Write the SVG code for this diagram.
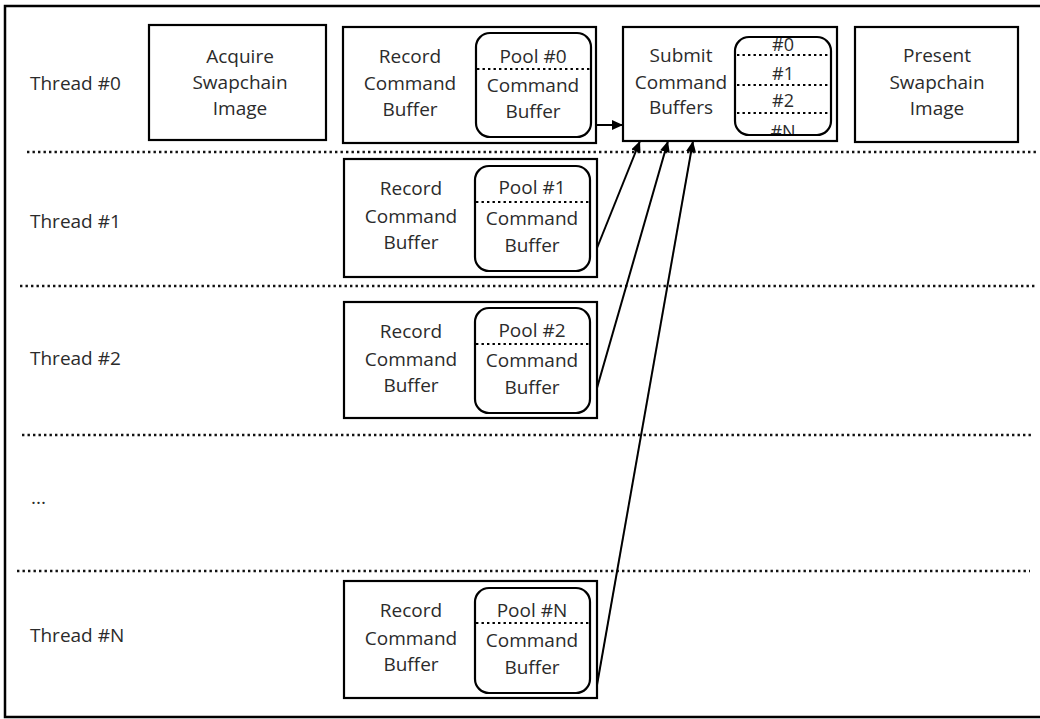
<svg xmlns="http://www.w3.org/2000/svg" width="1040" height="719" viewBox="0 0 1040 719">
<style>
text{font-family:"Open Sans","Liberation Sans",sans-serif;font-size:19px;fill:#2b2b2b;text-anchor:middle}
.lbl{text-anchor:start}
.box{fill:none;stroke:#000;stroke-width:2.2}
.pool{fill:none;stroke:#000;stroke-width:2.2}
.dot{fill:none;stroke:#000;stroke-width:2.2;stroke-dasharray:2.4 3.1}
.sep{fill:none;stroke:#111;stroke-width:2.4;stroke-dasharray:2.4 3.1}
.arr{fill:none;stroke:#000;stroke-width:2}
.small{font-size:18px}
</style>
<defs>
<marker id="ah" markerUnits="userSpaceOnUse" markerWidth="11" markerHeight="10" refX="11" refY="5" orient="auto">
<path d="M0,0 L11,5 L0,10 z" fill="#000"/>
</marker>
<clipPath id="subclip"><rect x="735" y="37" width="96" height="98" rx="14"/></clipPath>
</defs>
<rect x="5" y="6" width="1045" height="711" fill="#fff" stroke="#000" stroke-width="2.5"/>
<g id="separators">
<line class="sep" x1="27" y1="152" x2="1037" y2="152"/>
<line class="sep" x1="20" y1="286" x2="1036" y2="286"/>
<line class="sep" x1="22" y1="435" x2="1033" y2="435"/>
<line class="sep" x1="17" y1="571" x2="1030" y2="571"/>
</g>
<g id="thread-labels">
<text class="lbl" x="30" y="90">Thread #0</text>
<text class="lbl" x="30" y="228">Thread #1</text>
<text class="lbl" x="30" y="365">Thread #2</text>
<text class="lbl" x="31" y="504">...</text>
<text class="lbl" x="30" y="642">Thread #N</text>
</g>
<g id="acquire">
<rect class="box" x="149" y="25" width="177" height="115"/>
<text x="240" y="63">Acquire</text>
<text x="240" y="89">Swapchain</text>
<text x="240" y="115">Image</text>
</g>
<g id="record0">
<rect class="box" x="343" y="27" width="253" height="116"/>
<text x="410" y="63">Record</text>
<text x="410" y="90">Command</text>
<text x="410" y="116">Buffer</text>
<rect class="pool" x="476" y="33" width="115" height="104" rx="14"/>
<line class="dot" x1="477" y1="69" x2="590" y2="69"/>
<text x="533" y="63">Pool #0</text>
<text x="533" y="92">Command</text>
<text x="533" y="118">Buffer</text>
</g>
<g id="record1">
<rect class="box" x="344" y="159" width="253" height="118"/>
<text x="411" y="195">Record</text>
<text x="411" y="223">Command</text>
<text x="411" y="249">Buffer</text>
<rect class="pool" x="475" y="166" width="115" height="105" rx="14"/>
<line class="dot" x1="476" y1="202" x2="589" y2="202"/>
<text x="532" y="194">Pool #1</text>
<text x="532" y="225">Command</text>
<text x="532" y="252">Buffer</text>
</g>
<g id="record2">
<rect class="box" x="344" y="302" width="253" height="116"/>
<text x="411" y="338">Record</text>
<text x="411" y="366">Command</text>
<text x="411" y="392">Buffer</text>
<rect class="pool" x="475" y="308" width="115" height="105" rx="14"/>
<line class="dot" x1="476" y1="344" x2="589" y2="344"/>
<text x="532" y="337">Pool #2</text>
<text x="532" y="367">Command</text>
<text x="532" y="394">Buffer</text>
</g>
<g id="recordN">
<rect class="box" x="344" y="581" width="253" height="117"/>
<text x="411" y="617">Record</text>
<text x="411" y="645">Command</text>
<text x="411" y="671">Buffer</text>
<rect class="pool" x="475" y="588" width="115" height="105" rx="14"/>
<line class="dot" x1="476" y1="623" x2="589" y2="623"/>
<text x="532" y="617">Pool #N</text>
<text x="532" y="647">Command</text>
<text x="532" y="674">Buffer</text>
</g>
<g id="submit">
<rect class="box" x="623" y="27" width="214" height="114"/>
<text x="681" y="62">Submit</text>
<text x="681" y="89">Command</text>
<text x="681" y="114">Buffers</text>
<g clip-path="url(#subclip)">
<text class="small" x="783" y="51">#0</text>
<text class="small" x="783" y="80">#1</text>
<text class="small" x="783" y="107">#2</text>
<text class="small" x="783" y="138">#N</text>
</g>
<line class="dot" x1="737" y1="55" x2="829" y2="55"/>
<line class="dot" x1="737" y1="85" x2="829" y2="85"/>
<line class="dot" x1="737" y1="113" x2="829" y2="113"/>
<rect class="pool" x="735" y="37" width="96" height="98" rx="14"/>
</g>
<g id="present">
<rect class="box" x="855" y="27" width="163" height="115"/>
<text x="937" y="62">Present</text>
<text x="937" y="89">Swapchain</text>
<text x="937" y="115">Image</text>
</g>
<g id="connectors">
<line class="arr" x1="596" y1="125" x2="623" y2="125" marker-end="url(#ah)"/>
<line class="arr" x1="597" y1="248" x2="640" y2="141" marker-end="url(#ah)"/>
<line class="arr" x1="597" y1="388" x2="668" y2="141" marker-end="url(#ah)"/>
<line class="arr" x1="597" y1="685" x2="693" y2="141" marker-end="url(#ah)"/>
</g>
</svg>
